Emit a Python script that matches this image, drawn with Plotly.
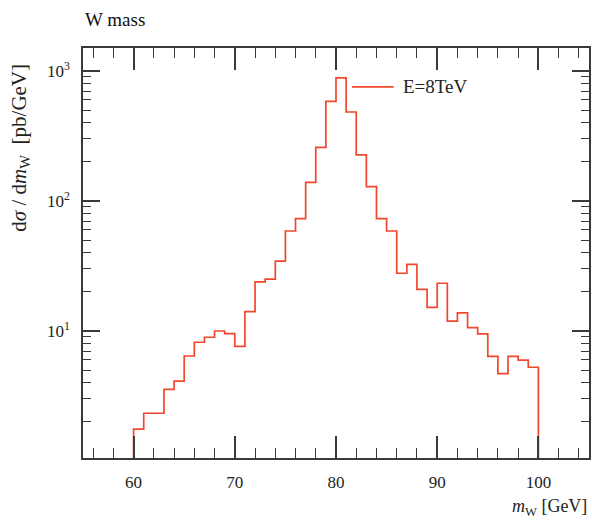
import plotly.graph_objects as go

# Bin edges of the W-mass histogram (GeV)
bin_low_edges = [60, 61, 62, 63, 64, 65, 66, 67, 68, 69,
                 70, 71, 72, 73, 74, 75, 76, 77, 78, 79,
                 80, 81, 82, 83, 84, 85, 86, 87, 88, 89,
                 90, 91, 92, 93, 94, 95, 96, 97, 98, 99]
last_edge = 100

# dσ/dm_W [pb/GeV] per bin
xsec_8tev = [1.76, 2.33, 2.33, 3.56, 4.12, 6.42, 8.19, 8.95, 10.0, 9.53,
             7.62, 14.1, 23.9, 25.1, 34.5, 58.8, 73.1, 139, 259, 585,
             887, 484, 226, 129, 73.1, 58.8, 27.8, 32.6, 20.9, 15.2,
             23.3, 11.9, 13.8, 10.6, 9.5, 6.38, 4.7, 6.38, 5.96, 5.26]

y_tick_vals = [10, 100, 1000]
y_tick_text = ["10<sup>1</sup>", "10<sup>2</sup>", "10<sup>3</sup>"]

series_name = "E=8TeV"
title_text = "W mass"
x_title = "<i>m</i><sub>W</sub> [GeV]"
y_title = "d<i>σ</i> / d<i>m</i><sub>W</sub>  [pb/GeV]"

floor = 0.5  # below the axis range so the outer edges drop to the frame
xs = [bin_low_edges[0]] + bin_low_edges + [last_edge, last_edge]
ys = [floor] + xsec_8tev + [xsec_8tev[-1], floor]

FONT = "Liberation Serif, Times New Roman, serif"
AXC = "#3a3a3a"
RED = "#f2462d"

fig = go.Figure()
fig.add_trace(go.Scatter(
    x=xs, y=ys, mode="lines", line_shape="hv",
    line=dict(color=RED, width=1.7),
    name=series_name, showlegend=False,
))

fig.update_layout(
    width=592, height=524,
    margin=dict(l=83, r=1, t=48, b=66),
    paper_bgcolor="white", plot_bgcolor="white",
    font=dict(family=FONT, size=17, color="#222"),
    showlegend=False,
    xaxis=dict(
        range=[55, 105], showgrid=False, zeroline=False,
        showline=True, linecolor=AXC, linewidth=1.5, mirror="ticks",
        ticks="inside", ticklen=22, tickwidth=1.5, tickcolor=AXC,
        tick0=0, dtick=10, ticklabelstandoff=8,
        tickfont=dict(family=FONT, size=17, color="#222"),
        minor=dict(ticks="inside", ticklen=10, tickwidth=1.2,
                   tickcolor=AXC, dtick=2, showgrid=False),
    ),
    yaxis=dict(
        type="log", range=[0.023, 3.177], showgrid=False, zeroline=False,
        showline=True, linecolor=AXC, linewidth=1.5, mirror="ticks",
        ticks="inside", ticklen=17, tickwidth=1.5, tickcolor=AXC,
        tickmode="array", tickvals=y_tick_vals, ticktext=y_tick_text,
        ticklabelstandoff=8,
        tickfont=dict(family=FONT, size=17, color="#222"),
        minor=dict(ticks="inside", ticklen=8, tickwidth=1.2,
                   tickcolor=AXC, dtick="D1", showgrid=False),
    ),
    shapes=[
        dict(type="line", xref="paper", yref="paper",
             x0=0.5315, x1=0.614, y0=0.905, y1=0.905,
             line=dict(color=RED, width=1.7)),
    ],
    annotations=[
        dict(text=series_name, xref="paper", yref="paper",
             x=0.628, y=0.905, xanchor="left", yanchor="middle",
             showarrow=False, font=dict(family=FONT, size=19, color="#222")),
        dict(text=title_text, xref="paper", yref="paper",
             x=0, y=1.0707, xanchor="left", yanchor="middle",
             showarrow=False, font=dict(family=FONT, size=19, color="#111")),
        dict(text=x_title, xref="paper", yref="paper",
             x=1, y=-0.12, xanchor="right", yanchor="middle",
             showarrow=False, font=dict(family=FONT, size=18, color="#222")),
        dict(text=y_title, xref="paper", yref="paper",
             x=-0.125, y=0.966, xanchor="center", yanchor="top",
             textangle=-90, showarrow=False,
             font=dict(family=FONT, size=21, color="#222")),
    ],
)

fig.write_html("out.html")
